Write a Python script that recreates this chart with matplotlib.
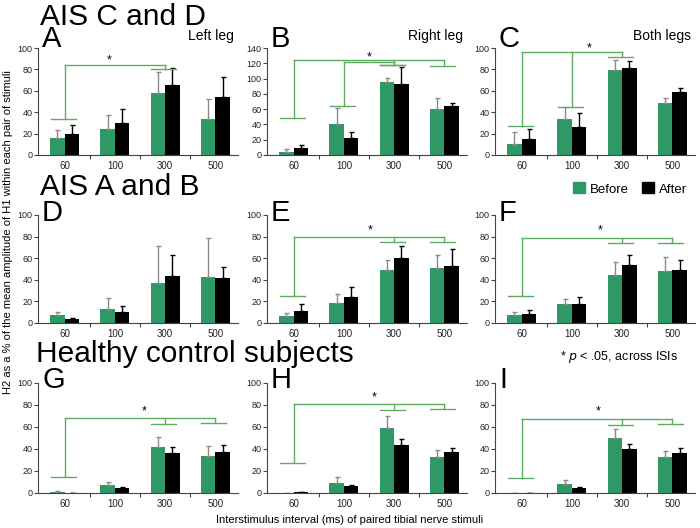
import matplotlib
matplotlib.use("Agg")
import matplotlib.pyplot as plt
from matplotlib.patches import Patch
import numpy as np

plt.rcParams['font.family'] = ['Liberation Sans', 'DejaVu Sans']

isi = ["60", "100", "300", "500"]

# mean (before/after) and upper error length (before/after) per panel
before = {
    "A": [15.6, 24, 58, 34], "B": [4.3, 40, 96, 60], "C": [10.5, 34, 79, 49],
    "D": [7, 13, 36.6, 43], "E": [6.5, 18.7, 49, 51], "F": [7, 17.3, 44.6, 48.6],
    "G": [1.2, 7.6, 41.8, 33.5], "H": [0.3, 9.5, 59, 33], "I": [0.3, 8.3, 50, 33],
}
after = {
    "A": [19.7, 30, 65, 54], "B": [9.6, 22, 93.5, 64], "C": [14.6, 26, 81, 59],
    "D": [4, 10, 43.7, 41.5], "E": [11, 23.7, 60, 52.6], "F": [8.7, 18, 53.6, 49],
    "G": [0.3, 4.6, 36.6, 37], "H": [1, 6, 44, 37], "I": [0.3, 5, 40.3, 36.3],
}
before_err = {
    "A": [7.4, 13, 19.5, 18], "B": [3.1, 21, 5, 15], "C": [11.2, 10.7, 10, 4],
    "D": [3, 10, 34.4, 35.5], "E": [3.2, 8.3, 9, 12], "F": [3, 4.7, 12.1, 12.4],
    "G": [0.6, 2.8, 8.8, 8.9], "H": [0, 5.1, 11, 5.7], "I": [0, 3.1, 8.5, 5.5],
}
after_err = {
    "A": [8.3, 13, 16, 19], "B": [3, 8, 21.5, 4], "C": [9.4, 13, 6.6, 4],
    "D": [0.6, 6, 19.3, 9.9], "E": [7, 9.3, 11, 15.9], "F": [3.7, 6.5, 9.4, 9.5],
    "G": [0, 1.2, 4.9, 6.3], "H": [0.3, 1.3, 5, 4], "I": [0, 0.5, 4, 4.3],
}
ymax = {"A": 100, "B": 140, "C": 100, "D": 100, "E": 100, "F": 100,
        "G": 100, "H": 100, "I": 100}
subtitles = {"A": "Left leg", "B": "Right leg", "C": "Both legs"}

# significance brackets: (line height, [(group, cap height), ...])
brackets = {
    "A": [(84, [(0, 34), (2, 80)])],
    "B": [(124, [(0, 48.7), (2, 118), (3, 117)]), (121.5, [(1, 64), (2, 118)])],
    "C": [(96.5, [(0, 27), (1, 44.7), (2, 92)])],
    "D": [],
    "E": [(79.4, [(0, 25), (2, 75), (3, 75.4)])],
    "F": [(79, [(0, 25.4), (2, 74), (3, 74.5)])],
    "G": [(68, [(0, 15), (2, 63), (3, 63.5)])],
    "H": [(80.5, [(0, 27.4), (2, 75.6), (3, 76)])],
    "I": [(67.4, [(0, 14), (2, 62), (3, 63)])],
}
stars = {"A": (0.88, 88), "B": (1.5, 128), "C": (1.35, 99.5), "E": (1.53, 86),
         "F": (1.57, 86), "G": (1.58, 74), "H": (1.6, 86.5), "I": (1.53, 74)}

green = "#2f9966"
bracket_col = "#5fab5f"

W, H = 700, 528
fig = plt.figure(figsize=(7, 5.28), dpi=100)

col_left = [38, 267, 495]
col_w = 200
rows = [(48, 155), (215, 323), (383, 493)]
letters = [["A", "B", "C"], ["D", "E", "F"], ["G", "H", "I"]]
letter_base = [47, 221, 388]

x = np.arange(len(isi))
bw = 0.29
for r, (top, bot) in enumerate(rows):
    for c in range(3):
        key = letters[r][c]
        ax = fig.add_axes([col_left[c] / W, 1 - bot / H, col_w / W, (bot - top) / H])
        ax.bar(x - bw / 2, before[key], bw, color=green, zorder=2,
               yerr=[np.zeros(4), before_err[key]],
               error_kw=dict(ecolor="#8a8a8a", elinewidth=1, capsize=1.8, capthick=1))
        ax.bar(x + bw / 2, after[key], bw, color="black", zorder=2,
               yerr=[np.zeros(4), after_err[key]],
               error_kw=dict(ecolor="black", elinewidth=1, capsize=1.8, capthick=1))
        for (h, members) in brackets[key]:
            gs = [m[0] for m in members]
            ax.plot([min(gs), max(gs)], [h, h], color=bracket_col, lw=1, zorder=3)
            for g, cy in members:
                ax.plot([g, g], [h, cy], color=bracket_col, lw=1, zorder=3)
                ax.plot([g - 0.28, g + 0.22], [cy, cy], color=bracket_col, lw=1, zorder=3)
        if key in stars:
            sx, sy = stars[key]
            ax.text(sx, sy, "*", ha="center", va="center", fontsize=9)
        ax.set_xlim(-0.53, 3.45)
        ax.set_ylim(0, ymax[key])
        ax.set_yticks(np.arange(0, ymax[key] + 1, 20))
        ax.tick_params(axis="y", labelsize=6.5, length=3, width=0.8, colors="#444444",
                       labelcolor="#222222", pad=1)
        ax.set_xticks([0.5, 1.5, 2.5])
        ax.set_xticklabels([])
        ax.set_xticks(x, minor=True)
        ax.set_xticklabels(isi, minor=True, fontsize=7)
        ax.tick_params(axis="x", which="major", length=3, width=0.8, colors="#444444")
        ax.tick_params(axis="x", which="minor", length=0, pad=4, labelcolor="#222222")
        for s in ["top", "right"]:
            ax.spines[s].set_visible(False)
        for s in ["left", "bottom"]:
            ax.spines[s].set_color("#444444")
            ax.spines[s].set_linewidth(0.8)
        # panel letter
        fig.text((col_left[c] + 4) / W, 1 - letter_base[r] / H, key, fontsize=21,
                 ha="left", va="baseline")
        if key in subtitles:
            fig.text((col_left[c] + col_w - 4) / W, 1 - 36 / H, subtitles[key],
                     fontsize=10, ha="right", va="center")

fig.text(40 / W, 1 - 25 / H, "AIS C and D", fontsize=21.5, ha="left", va="baseline")
fig.text(40 / W, 1 - 195 / H, "AIS A and B", fontsize=21.5, ha="left", va="baseline")
fig.text(36 / W, 1 - 362 / H, "Healthy control subjects", fontsize=21.5, ha="left",
         va="baseline")

fig.text(8 / W, 1 - 232 / H,
         "H2 as a % of the mean amplitude of H1 within each pair of stimuli",
         rotation=90, fontsize=8, ha="center", va="center")
fig.text(350 / W, 1 - 520 / H,
         "Interstimulus interval (ms) of paired tibial nerve stimuli",
         fontsize=8, ha="center", va="center")

fig.legend(handles=[Patch(color=green), Patch(color="black")],
           labels=["Before", "After"], loc="center", bbox_to_anchor=(630 / W, 1 - 189 / H),
           ncol=2, frameon=False, fontsize=9.5, handlelength=0.9, handleheight=0.9,
           handletextpad=0.4, columnspacing=1.0)

fig.text(678 / W, 1 - 357 / H, "* $\\it{p}$ < .05, across ISIs", fontsize=9,
         ha="right", va="center")

fig.savefig("out.png", dpi=100)
